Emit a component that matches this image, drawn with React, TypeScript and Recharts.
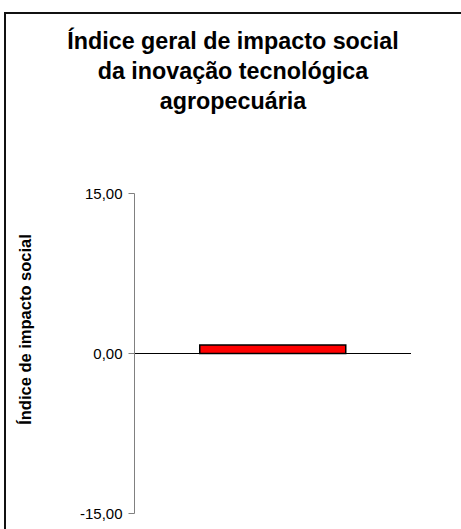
import React from "react";
import { BarChart, Bar, XAxis, YAxis, ReferenceLine, Label } from "recharts";

const categories = [""];
const indexValues = [0.8];
const yTicks = [-15, 0, 15];
const titleLines = [
  "Índice geral de impacto social",
  "da inovação tecnológica",
  "agropecuária",
];
const yAxisTitle = "Índice de impacto social";

const data = categories.map((name, i) => ({ name, value: indexValues[i] }));

const fmt = (v: number) => v.toFixed(2).replace(".", ",");

export default function App() {
  return (
    <div
      style={{
        position: "absolute",
        left: 0,
        top: 0,
        width: 461,
        height: 529,
        overflow: "hidden",
        background: "#fff",
        fontFamily: "'Liberation Sans', Arial, sans-serif",
      }}
    >
      <div
        style={{
          position: "absolute",
          left: 4,
          top: 12,
          width: 520,
          height: 600,
          borderTop: "2px solid #111",
          borderLeft: "2px solid #111",
        }}
      />
      <div
        style={{
          position: "absolute",
          left: 0,
          top: 26,
          width: 466,
          textAlign: "center",
          fontWeight: "bold",
          fontSize: 23.3,
          lineHeight: "30px",
          color: "#000",
        }}
      >
        {titleLines.map((t) => (
          <div key={t}>{t}</div>
        ))}
      </div>
      <div style={{ position: "absolute", left: 0, top: 0 }}>
        <BarChart
          width={461}
          height={529}
          data={data}
          margin={{ top: 193.5, right: 50, bottom: 15.5, left: 74.5 }}
          barCategoryGap="23.6%"
        >
          <XAxis dataKey="name" hide />
          <YAxis
            width={60}
            domain={[-15, 15]}
            ticks={yTicks}
            tickFormatter={fmt}
            axisLine={{ stroke: "#808080" }}
            tickLine={{ stroke: "#808080" }}
            tickSize={6}
            tickMargin={6}
            tick={{ fill: "#000", fontSize: 15 }}
          >
            <Label
              content={({ viewBox }: any) => {
                const cx = 25;
                const cy = viewBox.y + viewBox.height / 2 - 24;
                return (
                  <text
                    x={cx}
                    y={cy}
                    transform={`rotate(-90 ${cx} ${cy})`}
                    textAnchor="middle"
                    dominantBaseline="central"
                    fontWeight="bold"
                    fontSize={16.5}
                    fill="#000"
                  >
                    {yAxisTitle}
                  </text>
                );
              }}
            />
          </YAxis>
          <ReferenceLine y={0} stroke="#000" strokeWidth={1} />
          <Bar
            dataKey="value"
            fill="#ff0000"
            stroke="#000"
            strokeWidth={1.5}
            isAnimationActive={false}
          />
        </BarChart>
      </div>
    </div>
  );
}
